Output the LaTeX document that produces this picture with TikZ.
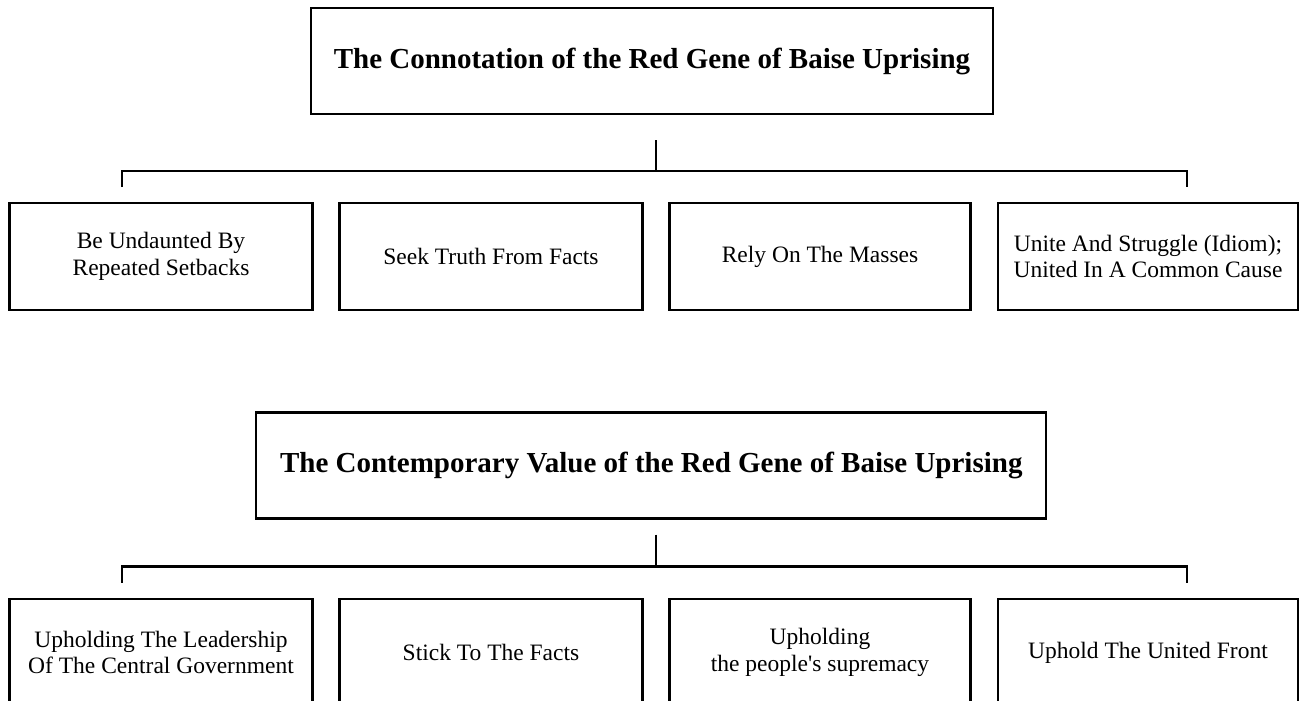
\documentclass[tikz,border=0pt]{standalone}
\usepackage{fontspec}
\setmainfont{Liberation Serif}[Ligatures=TeXOff]
\begin{document}
\begin{tikzpicture}[x=1pt,y=-1pt,
  box/.style={draw=black, line width=2.2pt, inner sep=0pt, align=center, text=black},
  titlebox/.style={box, minimum height=106pt, font=\fontsize{29}{34}\selectfont\bfseries},
  itembox/.style={box, minimum width=303pt, minimum height=107pt, font=\fontsize{23.5}{26.5}\selectfont},
  conn/.style={draw=black, line width=2.2pt, line join=miter}]
\clip (0,0) rectangle (1304,701);
\fill[white] (0,0) rectangle (1304,701);
% Row 1
\node[titlebox, minimum width=682pt] (t1) at (652,61) {\raisebox{-2pt}{The Connotation of the Red Gene of Baise Uprising}};
\node[itembox] (a1) at (161,256.5) {Be Undaunted By\\Repeated Setbacks};
\node[itembox] (a2) at (491,256.5) {Seek Truth From Facts};
\node[itembox, minimum width=301pt] (a3) at (820,256.5) {Rely On The Masses};
\node[itembox, minimum width=300pt] (a4) at (1148,256.5) {Unite And Struggle (Idiom);\\United In A Common Cause};
\coordinate (s1) at (656,140);
\coordinate (j1) at (656,171);
\coordinate (e1a) at (122,187);
\coordinate (e1b) at (1187,187);
\draw[conn] (s1) -- (j1);
\draw[conn] (e1a) |- (j1) -| (e1b);
% Row 2
\node[titlebox, minimum width=790pt] (t2) at (651.3,465.4) {\raisebox{-2pt}{The Contemporary Value of the Red Gene of Baise Uprising}};
\node[itembox] (b1) at (161,652.5) {Upholding The Leadership\\Of The Central Government};
\node[itembox] (b2) at (491,652.5) {Stick To The Facts};
\node[itembox, minimum width=301pt] (b3) at (820,652.5) {Upholding\\the people's supremacy};
\node[itembox, minimum width=300pt] (b4) at (1148,652.5) {Uphold The United Front};
\coordinate (s2) at (656,534.5);
\coordinate (j2) at (656,566.4);
\coordinate (e2a) at (122,582.5);
\coordinate (e2b) at (1187,582.5);
\draw[conn] (s2) -- (j2);
\draw[conn] (e2a) |- (j2) -| (e2b);
\end{tikzpicture}
\end{document}
